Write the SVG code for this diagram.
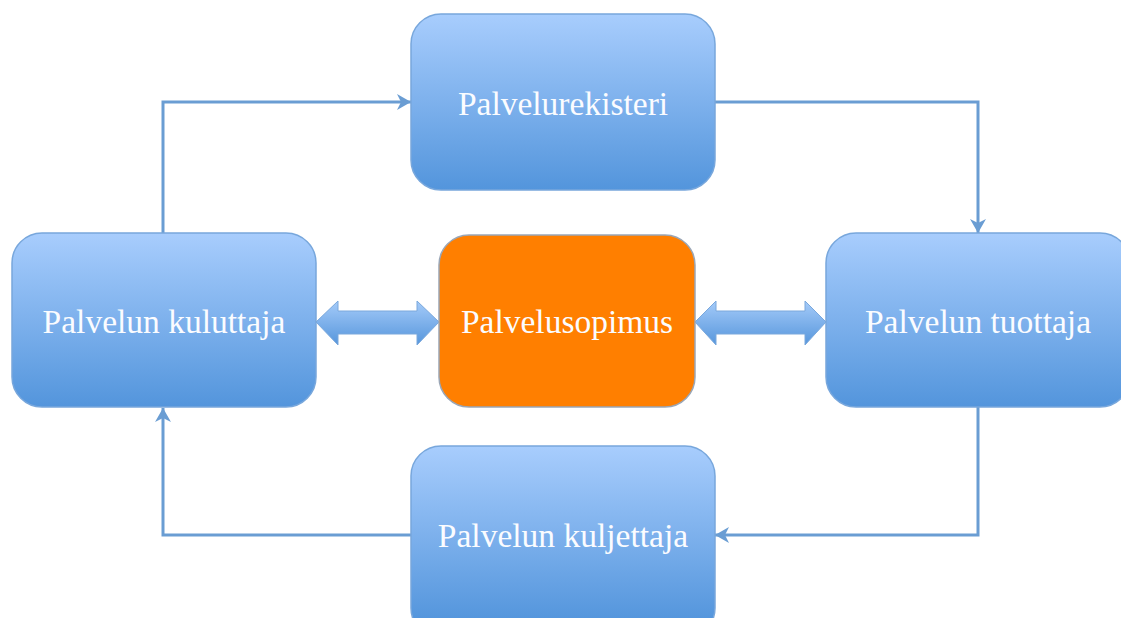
<svg xmlns="http://www.w3.org/2000/svg" width="1121" height="618" viewBox="0 0 1121 618">
  <defs>
    <linearGradient id="boxFill" x1="0" y1="0" x2="0" y2="1">
      <stop offset="0" stop-color="#a8cdfd"/>
      <stop offset="1" stop-color="#5395dc"/>
    </linearGradient>
    <!-- same shading for the bottom box, which runs past the lower edge -->
    <linearGradient id="boxFillLow" gradientUnits="userSpaceOnUse" x1="0" y1="446" x2="0" y2="622">
      <stop offset="0" stop-color="#a8cdfd"/>
      <stop offset="1" stop-color="#5395dc"/>
    </linearGradient>
    <linearGradient id="blockArrowFill" x1="0" y1="0" x2="0" y2="1">
      <stop offset="0" stop-color="#a5cbf9"/>
      <stop offset="1" stop-color="#5696dc"/>
    </linearGradient>
    <marker id="arrow" markerUnits="userSpaceOnUse" markerWidth="20" markerHeight="20" viewBox="0 0 20 20" refX="18" refY="10" orient="auto">
      <path d="M4,2 L18,10 L4,18 L8,10 Z" fill="#6a9dd3"/>
    </marker>
  </defs>
  <style>
    .box { fill: url(#boxFill); stroke: #78a7dc; stroke-width: 1.5; }
    .contract { fill: #ff7f00; stroke: #9aa6b6; stroke-width: 1.5; }
    .label { font-family: "Liberation Serif", "Times New Roman", serif; font-size: 33.5px; fill: #fbfcff; text-anchor: middle; }
    .link { fill: none; stroke: #6a9dd3; stroke-width: 3; marker-end: url(#arrow); }
    .block { fill: url(#blockArrowFill); stroke: #7aa8dc; stroke-width: 1; }
  </style>

  <rect width="1121" height="618" fill="#ffffff"/>

  <!-- connectors -->
  <g id="connectors">
    <path class="link" d="M163,233 V102 H411"/>
    <path class="link" d="M715,102 H978 V233"/>
    <path class="link" d="M978,407 V535 H715"/>
    <path class="link" d="M411,535 H163 V408"/>
    <!-- double block arrows around the contract -->
    <path class="block" d="M316,322 L338,301 L338,311 L417,311 L417,301 L439,322 L417,345 L417,334 L338,334 L338,345 Z"/>
    <path class="block" d="M695,322 L716,301 L716,311 L805,311 L805,301 L826,322 L805,345 L805,334 L716,334 L716,345 Z"/>
  </g>

  <g id="registry">
    <rect class="box" x="411" y="14" width="304" height="176" rx="30"/>
    <text class="label" x="563" y="115">Palvelurekisteri</text>
  </g>

  <g id="consumer">
    <rect class="box" x="12" y="233" width="304" height="174" rx="30"/>
    <text class="label" x="164" y="333">Palvelun kuluttaja</text>
  </g>

  <g id="contract">
    <rect class="contract" x="439" y="235" width="256" height="172" rx="30"/>
    <text class="label" x="567" y="333">Palvelusopimus</text>
  </g>

  <g id="provider">
    <rect class="box" x="826" y="233" width="304" height="174" rx="30"/>
    <text class="label" x="978" y="333">Palvelun tuottaja</text>
  </g>

  <g id="carrier">
    <rect class="box" x="411" y="446" width="304" height="192" rx="30" style="fill:url(#boxFillLow)"/>
    <text class="label" x="563" y="547">Palvelun kuljettaja</text>
  </g>
</svg>
